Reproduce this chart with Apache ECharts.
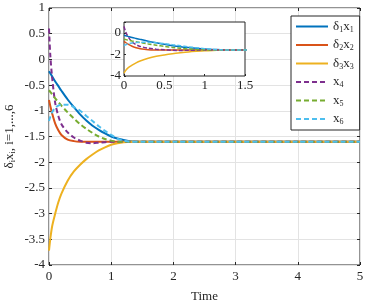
<!DOCTYPE html>
<html>
<head>
<meta charset="utf-8">
<script src="https://cdn.jsdelivr.net/npm/echarts@6/dist/echarts.min.js"></script>
</head>
<body style="margin:0">
<div id="main" style="width:368px;height:304px;"></div>
<script>
// time samples and read-off values for each state
var time = [0, 0.02, 0.05, 0.1, 0.15, 0.2, 0.3, 0.4, 0.5, 0.6, 0.7, 0.8, 0.9, 1.0, 1.1, 1.2, 1.3, 1.5, 2, 3, 4, 5];
var d1x1 = [-0.23, -0.27, -0.33, -0.43, -0.52, -0.61, -0.78, -0.93, -1.07, -1.19, -1.29, -1.37, -1.44, -1.50, -1.54, -1.57, -1.59, -1.6, -1.6, -1.6, -1.6, -1.6];
var d2x2 = [-0.79, -0.9, -1.05, -1.25, -1.38, -1.47, -1.56, -1.59, -1.6, -1.6, -1.6, -1.6, -1.6, -1.6, -1.6, -1.6, -1.6, -1.6, -1.6, -1.6, -1.6, -1.6];
var d3x3 = [-3.72, -3.5, -3.25, -3.0, -2.78, -2.61, -2.36, -2.18, -2.05, -1.94, -1.85, -1.77, -1.71, -1.66, -1.63, -1.61, -1.6, -1.6, -1.6, -1.6, -1.6, -1.6];
var x4 = [0.6, 0.1, -0.35, -0.85, -1.1, -1.26, -1.42, -1.52, -1.58, -1.62, -1.63, -1.62, -1.61, -1.6, -1.6, -1.6, -1.6, -1.6, -1.6, -1.6, -1.6, -1.6];
var x5 = [-0.6, -0.63, -0.68, -0.76, -0.83, -0.9, -1.03, -1.15, -1.26, -1.35, -1.43, -1.5, -1.55, -1.58, -1.6, -1.6, -1.6, -1.6, -1.6, -1.6, -1.6, -1.6];
var x6 = [-1.2, -1.12, -1.03, -0.94, -0.9, -0.88, -0.88, -0.93, -1.0, -1.1, -1.2, -1.3, -1.39, -1.47, -1.54, -1.58, -1.6, -1.6, -1.6, -1.6, -1.6, -1.6];

var names = ['d1x1', 'd2x2', 'd3x3', 'x4', 'x5', 'x6'];
var values = [d1x1, d2x2, d3x3, x4, x5, x6];
var colors = ['#0072BD', '#D95319', '#EDB120', '#7E2F8E', '#77AC30', '#4DBEEE'];
var dashed = [false, false, false, true, true, true];
var labels = {
    d1x1: '{a|δ}{s|1}{a|x}{s|1}',
    d2x2: '{a|δ}{s|2}{a|x}{s|2}',
    d3x3: '{a|δ}{s|3}{a|x}{s|3}',
    x4: '{a|x}{s|4}',
    x5: '{a|x}{s|5}',
    x6: '{a|x}{s|6}'
};

var font = 'Liberation Serif';
var axisColor = '#262626';
var rich = {
    a: {fontFamily: font, fontSize: 13, color: axisColor},
    s: {fontFamily: font, fontSize: 8, color: axisColor, padding: [6, 0, 0, 0]}
};

function pairs(v) {
    var out = [];
    for (var i = 0; i < time.length; i++) {
        out.push([time[i], v[i]]);
    }
    return out;
}

var series = [];
for (var k = 0; k < names.length; k++) {
    series.push({
        name: names[k], type: 'line', xAxisIndex: 0, yAxisIndex: 0,
        data: pairs(values[k]), showSymbol: false, symbol: 'none',
        smooth: 0.3, lineStyle: {color: colors[k], width: 2, type: dashed[k] ? [5, 3] : 'solid'},
        itemStyle: {color: colors[k]}, z: 2
    });
    series.push({
        name: names[k], type: 'line', xAxisIndex: 2, yAxisIndex: 2,
        data: pairs(values[k]), showSymbol: false, symbol: 'none',
        smooth: 0.3, lineStyle: {color: colors[k], width: 1.5, type: dashed[k] ? [4, 2] : 'solid'},
        itemStyle: {color: colors[k]}, z: 5
    });
}

var tickStyle = {inside: true, length: 3, lineStyle: {color: axisColor}};
var labelStyle = {fontFamily: font, fontSize: 13, color: axisColor};

var myChart = echarts.init(document.getElementById('main'));
var option = {
    animation: false,
    backgroundColor: '#fff',
    grid: [
        {left: 49, right: 8, top: 8, bottom: 39, outerBoundsMode: 'none', show: true, borderColor: axisColor, borderWidth: 1, backgroundColor: '#fff'},
        {left: 124, top: 22, width: 121, height: 54, outerBoundsMode: 'none', show: true, borderColor: axisColor, borderWidth: 1, backgroundColor: '#fff', z: 3}
    ],
    xAxis: [
        {
            type: 'value', gridIndex: 0, min: 0, max: 5, interval: 1,
            name: 'Time', nameLocation: 'middle', nameGap: 25,
            nameTextStyle: {fontFamily: font, fontSize: 13, color: axisColor},
            axisLine: {show: false, onZero: false}, axisTick: tickStyle,
            axisLabel: Object.assign({margin: 5}, labelStyle),
            splitLine: {lineStyle: {color: '#e3e3e3'}}
        },
        {
            type: 'value', gridIndex: 0, position: 'top', min: 0, max: 5, interval: 1,
            axisLine: {show: false, onZero: false}, axisTick: tickStyle,
            axisLabel: {show: false}, splitLine: {show: false}
        },
        {
            type: 'value', gridIndex: 1, min: 0, max: 1.5, interval: 0.5, z: 4,
            axisLine: {show: false, onZero: false}, axisTick: {inside: true, length: 2, lineStyle: {color: axisColor}},
            axisLabel: Object.assign({margin: 3}, labelStyle),
            splitLine: {show: false}
        }
    ],
    yAxis: [
        {
            type: 'value', gridIndex: 0, min: -4, max: 1, interval: 0.5,
            name: '{a|δ}{s|i}{a|x}{s|i}{a|, i=1,...,6}', nameLocation: 'middle', nameGap: 32, nameRotate: 90,
            nameMoveOverlap: false,
            nameTextStyle: {rich: rich},
            axisLine: {show: false, onZero: false}, axisTick: tickStyle,
            axisLabel: Object.assign({margin: 4}, labelStyle),
            splitLine: {lineStyle: {color: '#e3e3e3'}}
        },
        {
            type: 'value', gridIndex: 0, position: 'right', min: -4, max: 1, interval: 0.5,
            axisLine: {show: false, onZero: false}, axisTick: tickStyle,
            axisLabel: {show: false}, splitLine: {show: false}
        },
        {
            type: 'value', gridIndex: 1, min: -4, max: 1, interval: 2, z: 4,
            axisLine: {show: false, onZero: false}, axisTick: {inside: true, length: 2, lineStyle: {color: axisColor}},
            axisLabel: Object.assign({
                margin: 3,
                formatter: function (v) { return v % 2 === 0 ? String(v) : ''; }
            }, labelStyle),
            splitLine: {show: false}
        }
    ],
    legend: {
        orient: 'vertical', left: 291, top: 16, width: 69,
        padding: [4, 6, 4, 4], itemGap: 5, itemWidth: 32, itemHeight: 12,
        backgroundColor: '#fff', borderColor: axisColor, borderWidth: 1,
        data: names,
        itemStyle: {opacity: 0},
        formatter: function (n) { return labels[n]; },
        textStyle: {rich: rich},
        z: 10
    },
    series: series
};
myChart.setOption(option);
</script>
</body>
</html>
